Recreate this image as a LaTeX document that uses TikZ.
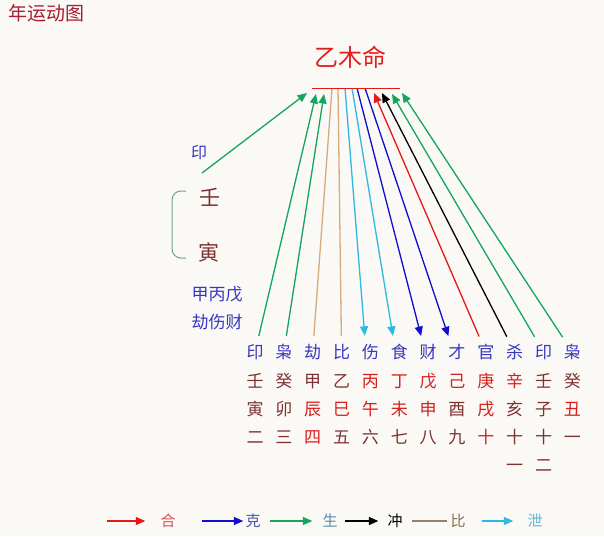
\documentclass[tikz,border=0pt]{standalone}
\usepackage{fontspec}
\setmainfont{Noto Sans CJK SC}
\usepackage{xcolor}
\usepackage{tikz}
\usetikzlibrary{arrows.meta,positioning}

\definecolor{bgpaper}{RGB}{251,249,245}
\definecolor{shgreen}{RGB}{20,165,95}
\definecolor{xiecyan}{RGB}{45,185,225}
\definecolor{keblue}{RGB}{15,15,205}
\definecolor{hered}{RGB}{230,25,25}
\definecolor{bitan}{RGB}{215,170,125}
\definecolor{bileg}{RGB}{150,130,100}
\definecolor{labblue}{RGB}{55,55,195}
\definecolor{stemdark}{RGB}{125,50,50}
\definecolor{stemred}{RGB}{215,30,30}
\definecolor{titlered}{RGB}{225,30,30}
\definecolor{headred}{RGB}{165,30,50}
\definecolor{legred}{RGB}{215,80,80}
\definecolor{legke}{RGB}{75,85,165}
\definecolor{legsheng}{RGB}{90,140,165}
\definecolor{legbi}{RGB}{140,110,80}
\definecolor{legxie}{RGB}{90,180,220}
\definecolor{bracketc}{RGB}{110,160,150}

\newcommand{\dk}[1]{\textcolor{stemdark}{#1}}
\newcommand{\rd}[1]{\textcolor{stemred}{#1}}

\begin{document}
\begin{tikzpicture}[x=1pt, y=-1pt,
	>={Triangle[length=9.5pt,width=8pt]},
	node distance = 11.45pt,
	every node/.style = {inner sep=0pt},
	lab/.style = {text=labblue, font=\fontsize{17}{20}\selectfont, text height=14pt, text depth=2pt},
	gz/.style = {align=center, font=\fontsize{17}{28}\selectfont},
	legtext/.style = {font=\fontsize{15}{18}\selectfont},
	sheng/.style = {->, draw=shgreen, fill=shgreen, line width=1.3pt},
	xie/.style = {->, draw=xiecyan, fill=xiecyan, line width=1.3pt},
	ke/.style = {->, draw=keblue, fill=keblue, line width=1.3pt},
	he/.style = {->, draw=hered, fill=hered, line width=1.3pt},
	chong/.style = {->, draw=black, fill=black, line width=1.3pt},
	bi/.style = {draw=bitan, line width=1.3pt},
	up/.style = {shorten <=8pt},
	down/.style = {shorten >=8pt}
	]
	\fill[bgpaper] (0,0) rectangle (604,536);
	
	\node (head) [text=headred, font=\fontsize{19}{22}\selectfont] at (47,13) {年运动图};
	\node (title) [text=titlered, font=\fontsize{24}{28}\selectfont] at (350,57) {乙木命};
	
	% left side
	\node (yin0) [text=labblue, font=\fontsize{16}{18}\selectfont] at (199,153) {印};
	\node (ren) [text=stemdark, font=\fontsize{21}{24}\selectfont] at (210,197) {壬};
	\node (yinz) [text=stemdark, font=\fontsize{21}{24}\selectfont] at (209,252) {寅};
	\node (jbw) [text=labblue, font=\fontsize{17}{20}\selectfont] at (217,294) {甲丙戊};
	\node (jsc) [text=labblue, font=\fontsize{17}{20}\selectfont, below=12pt of jbw] {劫伤财};
	\draw[bracketc, line width=1pt, rounded corners=9pt] (186,191) -- (172,191) -- (172,258) -- (186,258);
	
	% columns
	\node (l1) [lab] at (255,352) {印};
	\node (l2) [lab, right=of l1] {枭};
	\node (l3) [lab, right=of l2] {劫};
	\node (l4) [lab, right=of l3] {比};
	\node (l5) [lab, right=of l4] {伤};
	\node (l6) [lab, right=of l5] {食};
	\node (l7) [lab, right=of l6] {财};
	\node (l8) [lab, right=of l7] {才};
	\node (l9) [lab, right=of l8] {官};
	\node (l10) [lab, right=of l9] {杀};
	\node (l11) [lab, right=of l10] {印};
	\node (l12) [lab, right=of l11] {枭};
	
	\node (g1) [gz, below=7pt of l1] {\strut\dk{壬}\\\dk{寅}\\\dk{二}};
	\node (g2) [gz, below=7pt of l2] {\strut\dk{癸}\\\dk{卯}\\\dk{三}};
	\node (g3) [gz, below=7pt of l3] {\strut\dk{甲}\\\rd{辰}\\\rd{四}};
	\node (g4) [gz, below=7pt of l4] {\strut\dk{乙}\\\rd{巳}\\\dk{五}};
	\node (g5) [gz, below=7pt of l5] {\strut\rd{丙}\\\rd{午}\\\dk{六}};
	\node (g6) [gz, below=7pt of l6] {\strut\rd{丁}\\\rd{未}\\\dk{七}};
	\node (g7) [gz, below=7pt of l7] {\strut\rd{戊}\\\rd{申}\\\dk{八}};
	\node (g8) [gz, below=7pt of l8] {\strut\rd{己}\\\dk{酉}\\\dk{九}};
	\node (g9) [gz, below=7pt of l9] {\strut\rd{庚}\\\rd{戌}\\\rd{十}};
	\node (g10) [gz, below=7pt of l10] {\strut\rd{辛}\\\dk{亥}\\\dk{十}\\\dk{一}};
	\node (g11) [gz, below=7pt of l11] {\strut\dk{壬}\\\dk{子}\\\dk{十}\\\dk{二}};
	\node (g12) [gz, below=7pt of l12] {\strut\dk{癸}\\\rd{丑}\\\dk{一}};
	
	% top ends
	\coordinate (bl) at (312,88);
	\coordinate (br) at (400,88);
	\coordinate (s0) at (202,173);
	\coordinate (t0) at (307,93);
	\coordinate (t1) at (316,94);
	\coordinate (t2) at (324,94);
	\coordinate (t3) at (332,88);
	\coordinate (t4) at (338,88);
	\coordinate (t5) at (345,88);
	\coordinate (t6) at (352,88);
	\coordinate (t7) at (357,88);
	\coordinate (t8) at (365,88);
	\coordinate (t9) at (374,93);
	\coordinate (t10) at (382,93);
	\coordinate (t11) at (392,94);
	\coordinate (t12) at (402,93);
	
	\path
	(s0)  edge [sheng]     (t0)
	(l1)  edge [sheng,up]  (t1)
	(l2)  edge [sheng,up]  (t2)
	(l3)  edge [bi,up]     (t3)
	(l4)  edge [bi,up]     (t4)
	(t5)  edge [xie,down]  ([xshift=-5pt]l5.north)
	(t6)  edge [xie,down]  ([xshift=-5pt]l6.north)
	(t7)  edge [ke,down]   ([xshift=-5pt]l7.north)
	(t8)  edge [ke,down]   ([xshift=-6pt]l8.north)
	(l9)  edge [he,up]     (t9)
	(l10) edge [chong,up]  (t10)
	(l11) edge [sheng,up]  (t11)
	(l12) edge [sheng,up]  (t12);
	
	\draw[hered, line width=1pt] (bl) -- (br);
	
	% legend
	\node (lhe) [legtext, text=legred] at (168,521) {合};
	\node (lke) [legtext, text=legke] at (253,521) {克};
	\node (lsh) [legtext, text=legsheng] at (330,521) {生};
	\node (lch) [legtext, text=black] at (395,521) {冲};
	\node (lbi) [legtext, text=legbi] at (458,521) {比};
	\node (lxi) [legtext, text=legxie] at (535,521) {泄};
	\coordinate (k1) at (107,521);
	\coordinate (k2) at (202,521);
	\coordinate (k3) at (270,521);
	\coordinate (k4) at (345,521);
	\coordinate (k5) at (412,521);
	\coordinate (k6) at (482,521);
	
	\path
	(k1) edge [he, shorten >=15pt]  (lhe)
	(k2) edge [ke, shorten >=2pt]   (lke)
	(k3) edge [sheng, shorten >=10pt] (lsh)
	(k4) edge [chong, shorten >=9pt] (lch)
	(k5) edge [draw=bileg, line width=1.3pt, shorten >=3pt] (lbi)
	(k6) edge [xie, shorten >=14pt] (lxi);
\end{tikzpicture}
\end{document}
